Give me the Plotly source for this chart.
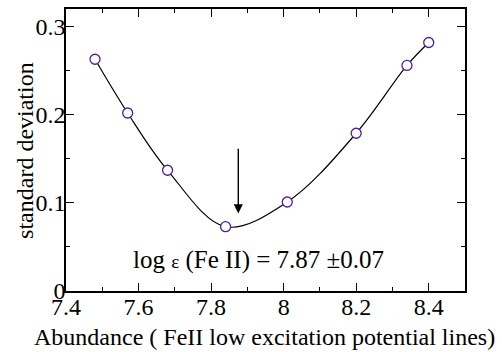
import plotly.graph_objects as go

abundance = [7.48, 7.57, 7.68, 7.84, 8.01, 8.20, 8.34, 8.40]
std_dev = [0.263, 0.202, 0.137, 0.073, 0.101, 0.179, 0.256, 0.282]
x_ticks = [7.4, 7.6, 7.8, 8.0, 8.2, 8.4]
x_tick_labels = ["7.4", "7.6", "7.8", "8", "8.2", "8.4"]
y_ticks = [0, 0.1, 0.2, 0.3]
y_tick_labels = ["0", "0.1", "0.2", "0.3"]
best_abundance = 7.875
label_text = ("log <span style='font-size:19px'>\u03b5</span> (Fe II) = 7.87 \u00b10.07")

font_fam = "Liberation Serif"

fig = go.Figure()
fig.add_trace(go.Scatter(
    x=abundance, y=std_dev, mode="lines",
    line=dict(color="black", width=1.2, shape="spline", smoothing=1.0),
    showlegend=False, hoverinfo="skip"))
fig.add_trace(go.Scatter(
    x=abundance, y=std_dev, mode="markers",
    marker=dict(symbol="circle", size=10, color="white",
                line=dict(color="#4b1fa0", width=1.3)),
    showlegend=False))

axis_common = dict(
    showline=True, linecolor="black", linewidth=1.5, mirror="ticks",
    ticks="inside", ticklen=8, tickwidth=1.2, tickcolor="black",
    showgrid=False, zeroline=False,
    tickfont=dict(family=font_fam, size=24, color="black"),
)
fig.update_xaxes(range=[7.4, 8.5], tickvals=x_ticks, ticktext=x_tick_labels,
                 minor=dict(dtick=0.1, ticks="inside", ticklen=4, tickcolor="black", tickwidth=1.2),
                 ticklabelstandoff=-7,
                 **axis_common)
fig.update_yaxes(range=[0, 0.32], tickvals=y_ticks, ticktext=y_tick_labels,
                 minor=dict(dtick=0.05, ticks="inside", ticklen=4, tickcolor="black", tickwidth=1.2),
                 ticklabelstandoff=-6,
                 **axis_common)

fig.add_annotation(x=best_abundance, y=0.088, ax=best_abundance, ay=0.163,
                   xref="x", yref="y", axref="x", ayref="y",
                   showarrow=True, arrowhead=2, arrowsize=1.3, arrowwidth=1.4,
                   arrowcolor="black", text="")
fig.add_annotation(x=7.93, y=0.035, xref="x", yref="y", text=label_text,
                   showarrow=False, font=dict(family=font_fam, size=25, color="black"))
fig.add_annotation(x=0.497, y=-0.162, xref="paper", yref="paper",
                   text="Abundance ( FeII low excitation potential lines)",
                   showarrow=False, yanchor="middle",
                   font=dict(family=font_fam, size=24, color="black"))
fig.add_annotation(x=-0.103, y=0.5, xref="paper", yref="paper",
                   text="standard deviation", textangle=-90,
                   showarrow=False, xanchor="center", yanchor="middle",
                   font=dict(family=font_fam, size=24, color="black"))

fig.update_layout(
    width=502, height=352,
    margin=dict(l=66, r=37, t=7, b=61),
    plot_bgcolor="white", paper_bgcolor="white",
)
fig.write_html("out.html")
